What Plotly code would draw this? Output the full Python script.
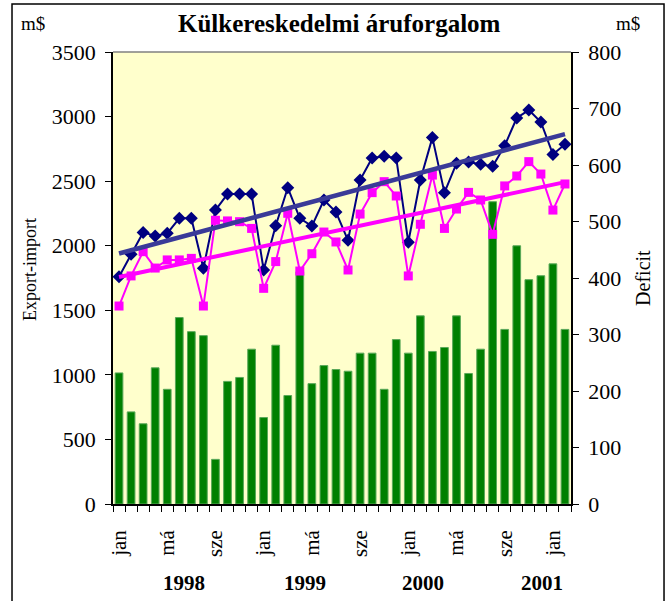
import numpy as np
import plotly.graph_objects as go

months = ["jan", "feb", "már", "ápr", "má", "jún", "júl", "aug", "sze", "okt", "nov", "dec"] * 3 + ["jan", "feb"]
tick_labels = ["jan", "má", "sze"] * 3 + ["jan"]
years = ["1998", "1999", "2000", "2001"]
year_pos = [5.4, 15.4, 25.2, 35.1]

import_vals = [1760, 1933, 2103, 2075, 2096, 2212, 2212, 1825, 2276, 2400, 2400, 2400,
               1812, 2155, 2449, 2212, 2152, 2354, 2261, 2042, 2509, 2679, 2692, 2679,
               2027, 2509, 2837, 2411, 2638, 2648, 2630, 2615, 2775, 2989, 3050, 2958,
               2707, 2785]
export_vals = [1533, 1766, 1954, 1827, 1890, 1890, 1902, 1533, 2197, 2192, 2186, 2134,
               1670, 1877, 2251, 1804, 1938, 2106, 2029, 1812, 2245, 2411, 2496, 2385,
               1766, 2166, 2547, 2134, 2284, 2413, 2354, 2088, 2463, 2540, 2651, 2555,
               2276, 2478]
deficit_vals = [232, 163, 142, 241, 203, 330, 305, 298, 79, 217, 224, 274,
                153, 281, 192, 411, 213, 245, 238, 235, 267, 267, 203, 291,
                267, 333, 270, 277, 333, 231, 274, 535, 309, 457, 397, 404,
                425, 309]

x = list(range(len(months)))
xa = np.array(x, dtype=float)
imp_fit = np.polyval(np.polyfit(xa, import_vals, 1), xa)
exp_fit = np.polyval(np.polyfit(xa, export_vals, 1), xa)

FONT = "Liberation Serif, Times New Roman, serif"

fig = go.Figure()
fig.add_trace(go.Bar(x=x, y=deficit_vals, yaxis="y", width=0.64,
                     marker=dict(color="#008000", line=dict(color="#5aa85a", width=1)),
                     name="Deficit"))
fig.add_trace(go.Scatter(x=x, y=import_vals, yaxis="y2", mode="lines+markers",
                         line=dict(color="#000080", width=2),
                         marker=dict(symbol="diamond", size=10, color="#000080"),
                         name="Import"))
fig.add_trace(go.Scatter(x=x, y=export_vals, yaxis="y2", mode="lines+markers",
                         line=dict(color="#FF00FF", width=2),
                         marker=dict(symbol="square", size=9, color="#FF00FF"),
                         name="Export"))
fig.add_trace(go.Scatter(x=x, y=imp_fit, yaxis="y2", mode="lines",
                         line=dict(color="#3a3a98", width=4.5), name="Import trend"))
fig.add_trace(go.Scatter(x=x, y=exp_fit, yaxis="y2", mode="lines",
                         line=dict(color="#FF00FF", width=4), name="Export trend"))

def ann(text, x, y, size, xref="paper", angle=0):
    return dict(text=text, xref=xref, yref="paper", x=x, y=y, showarrow=False,
                xanchor="center", yanchor="middle", textangle=angle,
                font=dict(size=size, family=FONT, color="black"))

annotations = [
    ann("<b>Külkereskedelmi áruforgalom</b>", 0.4956, 1.064, 25),
    ann("m$", -0.1747, 1.064, 19),
    ann("m$", 1.124, 1.064, 19),
    ann("Export-import", -0.181, 0.518, 18, angle=-90),
    ann("Deficit", 1.157, 0.5, 20, angle=-90),
]
for yr, pos in zip(years, year_pos):
    annotations.append(ann("<b>" + yr + "</b>", pos, -0.175, 21, xref="x"))

fig.update_layout(
    width=669, height=601,
    margin=dict(l=113, r=98, t=52, b=97, autoexpand=False),
    paper_bgcolor="white", plot_bgcolor="#FFFFCC",
    showlegend=False, bargap=0.36,
    font=dict(family=FONT, color="black"),
    xaxis=dict(range=[-0.5, len(x) - 0.5], tickmode="array",
               tickvals=[0, 4, 8, 12, 16, 20, 24, 28, 32, 36], ticktext=tick_labels,
               tickangle=-90, ticks="", showgrid=False, zeroline=False,
               showline=True, linecolor="black", linewidth=1.5,
               ticklabelstandoff=16, automargin=False,
               tickfont=dict(size=21, family=FONT),
               minor=dict(ticks="outside", tickmode="array",
                          tickvals=[i - 0.5 for i in range(len(x) + 1)],
                          ticklen=6, tickcolor="black", tickwidth=1, showgrid=False)),
    yaxis=dict(side="right", range=[0, 800], tickvals=list(range(0, 801, 100)),
               showgrid=False, zeroline=False, showline=True, linecolor="black", linewidth=1.5,
               ticks="outside", ticklen=6, tickcolor="black", ticklabelstandoff=5,
               automargin=False, tickfont=dict(size=22, family=FONT)),
    yaxis2=dict(side="left", overlaying="y", range=[0, 3500], tickvals=list(range(0, 3501, 500)),
                showgrid=False, zeroline=False, showline=True, linecolor="black", linewidth=1.5,
                ticks="outside", ticklen=6, tickcolor="black", ticklabelstandoff=5,
                automargin=False, tickfont=dict(size=22, family=FONT)),
    annotations=annotations,
    shapes=[
        dict(type="line", xref="paper", yref="paper", x0=0, x1=1, y0=1, y1=1,
             line=dict(color="#808080", width=1.5)),
        dict(type="rect", xref="paper", yref="paper", x0=-0.2205, x1=1.2031, y0=-0.24, y1=1.1062,
             line=dict(color="black", width=1.5)),
    ],
)

fig.write_html("out.html", config={"displayModeBar": False},
               post_script="document.body.style.margin='0';document.body.style.overflow='hidden';")
